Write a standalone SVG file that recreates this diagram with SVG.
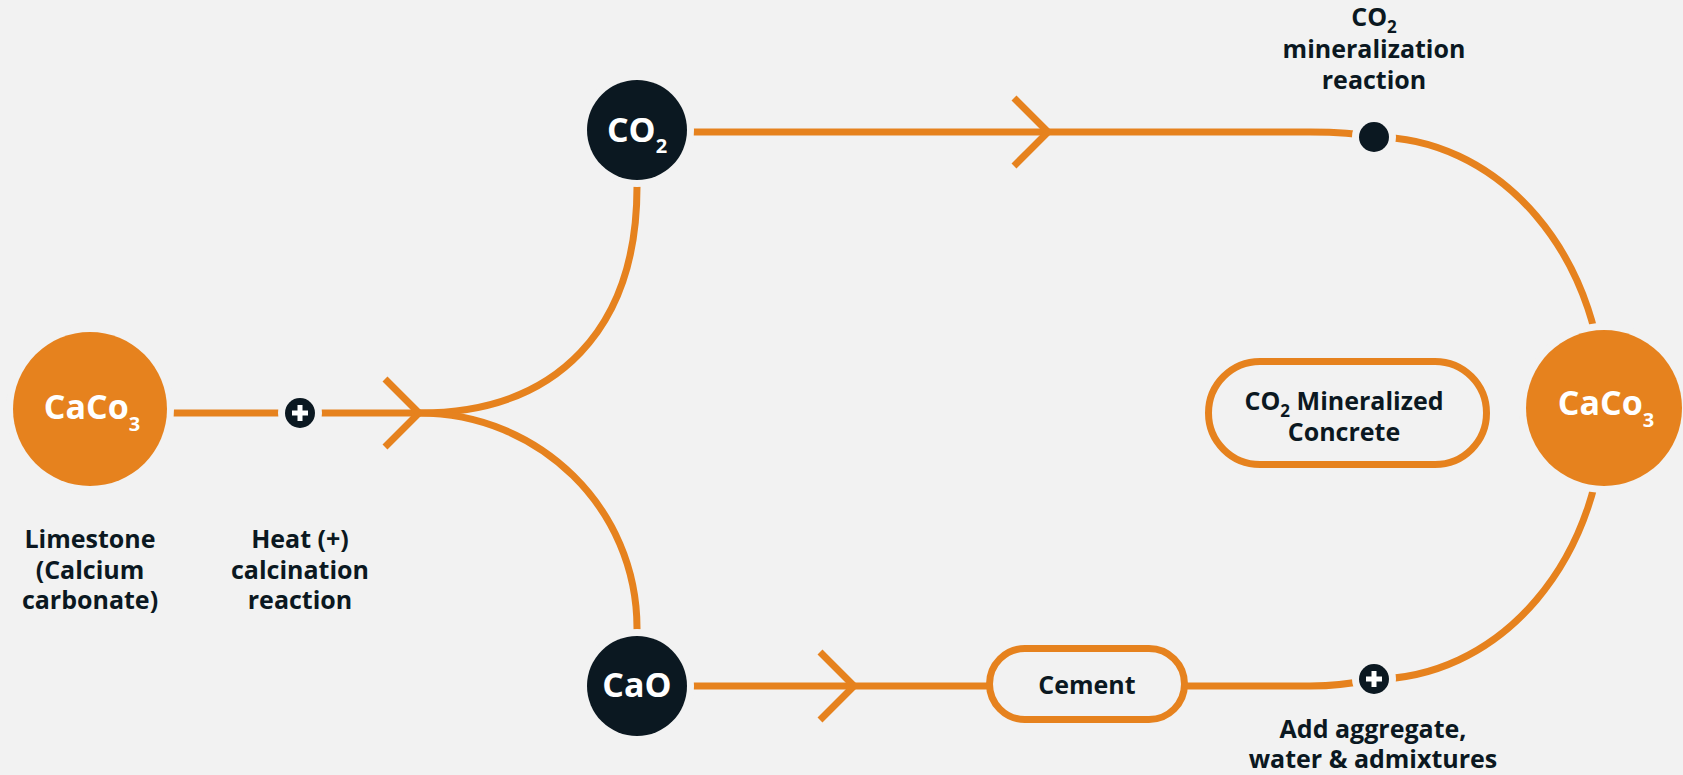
<svg xmlns="http://www.w3.org/2000/svg" xmlns:xlink="http://www.w3.org/1999/xlink" width="1683" height="775" viewBox="0 0 1683 775">
  <defs>
    <style>
      .line { fill: none; stroke: #E6821E; stroke-width: 7; }
      .chev { fill: none; stroke: #E6821E; stroke-width: 7; }
      .gap { stroke: #F2F2F2; stroke-width: 14; paint-order: stroke; }
      .orange { fill: #E6821E; }
      .dark { fill: #0B1821; }
      .pill { fill: #F2F2F2; stroke: #E6821E; stroke-width: 7; }
      .lbl { font-family: "Open Sans", "Noto Sans", sans-serif; font-weight: 700; font-size: 25px; fill: #0B1821; text-anchor: middle; }
      .big { font-family: "Open Sans", "Noto Sans", sans-serif; font-weight: 700; font-size: 34px; fill: #FFFFFF; text-anchor: middle; }
      .plus { fill: #FFFFFF; }
    </style>
    <path id="chevron" d="M-34,-34 L0,0 L-34,34" />
    <g id="plusdot">
      <circle r="15" class="dark gap" />
      <rect x="-8" y="-2.5" width="16" height="5" class="plus" />
      <rect x="-2.5" y="-8" width="5" height="16" class="plus" />
    </g>
  </defs>
  <rect x="0" y="0" width="1683" height="775" fill="#F2F2F2" />

  <g id="connectors">
    <path class="line" d="M90,413 H419" />
    <path class="line" d="M419,413 C559,413 637,327 637,187 L637,130" />
    <path class="line" d="M419,413 C539,413 637,508 637,628 L637,686" />
    <path class="line" d="M637,132 H1310 C1340,132 1360,134 1374,137 A230,271 0 0 1 1374,679 C1360,682 1340,686 1310,686 H637" />
    <use xlink:href="#chevron" href="#chevron" class="chev" transform="translate(419,413)" />
    <use xlink:href="#chevron" href="#chevron" class="chev" transform="translate(1048,132)" />
    <use xlink:href="#chevron" href="#chevron" class="chev" transform="translate(854,686)" />
  </g>

  <g id="node-caco3-left">
    <circle cx="90" cy="409" r="77" class="orange gap" />
    <text class="big" x="92" y="419">CaCo<tspan font-size="20" dy="12">3</tspan></text>
  </g>

  <g id="node-heat">
    <use xlink:href="#plusdot" href="#plusdot" transform="translate(300,413)" />
  </g>

  <g id="label-limestone">
    <text class="lbl" x="90" y="548">Limestone</text>
    <text class="lbl" x="90" y="579">(Calcium</text>
    <text class="lbl" x="90" y="609">carbonate)</text>
  </g>

  <g id="label-heat">
    <text class="lbl" x="300" y="548">Heat (+)</text>
    <text class="lbl" x="300" y="579">calcination</text>
    <text class="lbl" x="300" y="609">reaction</text>
  </g>

  <g id="node-co2">
    <circle cx="637" cy="130" r="50" class="dark gap" />
    <text class="big" x="637" y="142">CO<tspan font-size="20" dy="11">2</tspan></text>
  </g>

  <g id="node-cao">
    <circle cx="637" cy="686" r="50" class="dark gap" />
    <text class="big" x="637" y="697">CaO</text>
  </g>

  <g id="node-cement">
    <rect x="989.5" y="648.5" width="195" height="71" rx="35.5" class="pill" />
    <text class="lbl" x="1087" y="694">Cement</text>
  </g>

  <g id="node-mineralization">
    <circle cx="1374" cy="137" r="15" class="dark gap" />
    <text class="lbl" x="1374" y="26">CO<tspan font-size="17" dy="7">2</tspan></text>
    <text class="lbl" x="1374" y="58">mineralization</text>
    <text class="lbl" x="1374" y="89">reaction</text>
  </g>

  <g id="node-add">
    <use xlink:href="#plusdot" href="#plusdot" transform="translate(1374,679)" />
    <text class="lbl" x="1373" y="738">Add aggregate,</text>
    <text class="lbl" x="1373" y="768">water &amp; admixtures</text>
  </g>

  <g id="node-concrete">
    <rect x="1208.5" y="361.5" width="278" height="103" rx="51.5" class="pill" />
    <text class="lbl" x="1344" y="410">CO<tspan font-size="17" dy="7">2</tspan><tspan dy="-7"> Mineralized</tspan></text>
    <text class="lbl" x="1344" y="441">Concrete</text>
  </g>

  <g id="node-caco3-right">
    <circle cx="1604" cy="408" r="78" class="orange gap" />
    <text class="big" x="1606" y="415">CaCo<tspan font-size="20" dy="12">3</tspan></text>
  </g>
</svg>
